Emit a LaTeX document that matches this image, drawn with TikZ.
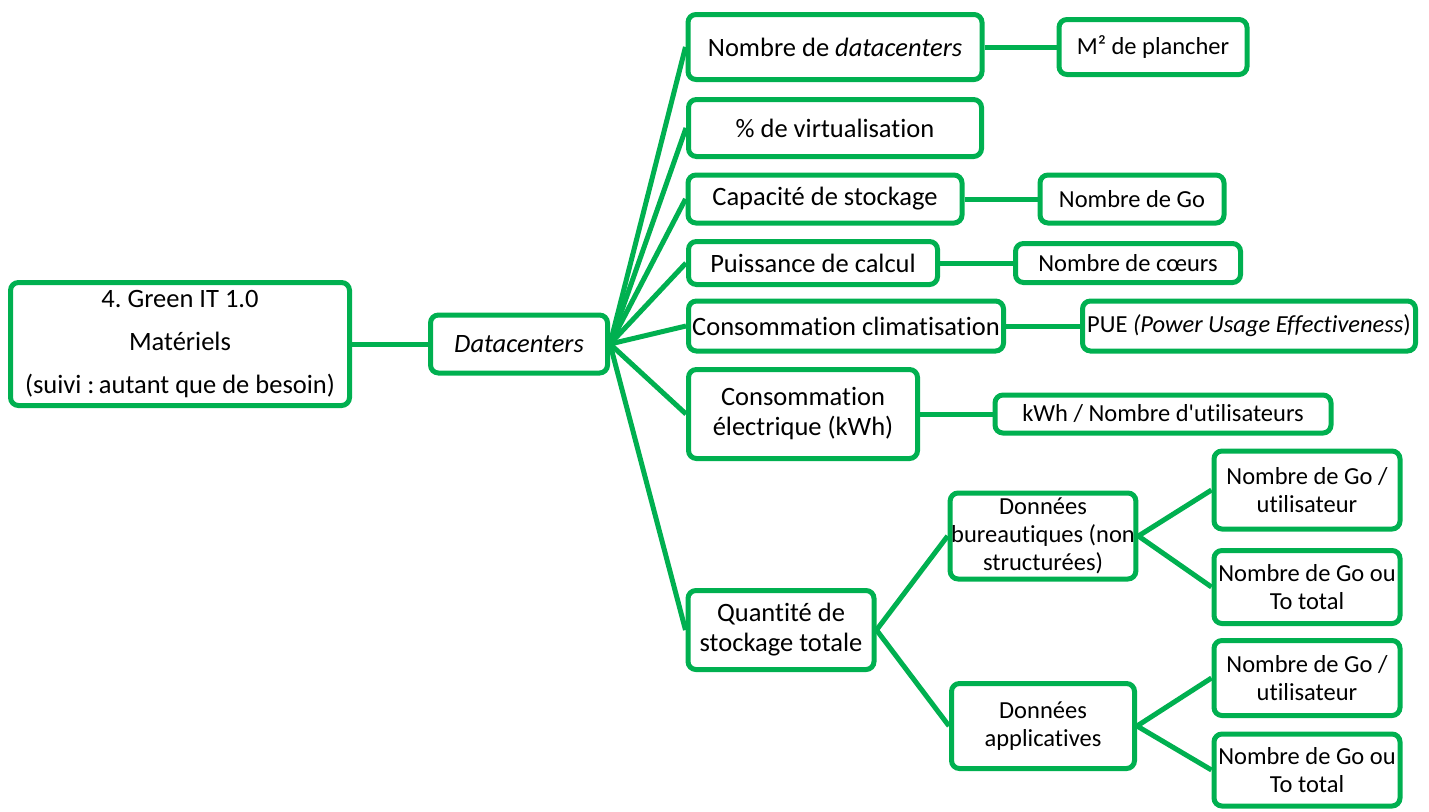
\documentclass[tikz,border=0pt]{standalone}
\usepackage{fontspec}
\setmainfont{Carlito}[Ligatures=NoCommon]
\definecolor{itgreen}{RGB}{0,176,80}
\frenchspacing

\tikzset{
  box/.style={draw=itgreen, line width=5pt, rounded corners=8pt, fill=white,
    align=center, inner sep=1pt},
  big/.style={box, font=\fontsize{26.5}{30}\selectfont},
  small/.style={box, font=\fontsize{24.5}{28}\selectfont},
  link/.style={draw=itgreen, line width=5pt},
}

\begin{document}
\begin{tikzpicture}[x=1pt, y=-1pt]
    \useasboundingbox (0,0) rectangle (1429,811);

    % Root and hub
    \node[big, minimum width=339pt, minimum height=123pt] (root) at (180,344)
        {4. Green IT 1.0\\[13pt] Matériels\\[13pt] (suivi :\,autant que de besoin)};
    \node[big, minimum width=177pt, minimum height=58pt] (dc) at (519,344) {\textit{Datacenters}};

    % First level
    \node[big, minimum width=294pt, minimum height=65pt] (nbdc) at (835,47) {Nombre de \textit{datacenters}};
    \node[big, minimum width=293pt, minimum height=57pt] (virt) at (835,128) {\% de virtualisation};
    \node[big, minimum width=274pt, minimum height=48pt] (cap) at (825,199) {Capacité de stockage};
    \node[big, minimum width=249pt, minimum height=43pt] (calc) at (813,263) {Puissance de calcul};
    \node[big, minimum width=315pt, minimum height=50pt] (clim) at (846,326) {Consommation climatisation};
    \node[big, minimum width=229pt, minimum height=89pt] (elec) at (803,414) {Consommation\\ électrique (kWh)};
    \node[big, minimum width=186pt, minimum height=79pt] (qte) at (781,630) {Quantité de\\ stockage totale};

    % Second level
    \node[small, minimum width=188pt, minimum height=55pt] (plancher) at (1153,47) {M² de plancher};
    \node[small, minimum width=184pt, minimum height=48pt] (nbgo) at (1132,199) {Nombre de Go};
    \node[small, minimum width=225pt, minimum height=39pt] (coeurs) at (1128,263) {Nombre de cœurs};
    \node[small, minimum width=333pt, minimum height=50pt] (pue) at (1249,326) {PUE \textit{(Power Usage Effectiveness})};
    \node[small, minimum width=336pt, minimum height=38pt] (kwh) at (1163,414) {kWh / Nombre d\textquotesingle utilisateurs};
    \node[small, minimum width=183pt, minimum height=86pt] (bur) at (1043,536) {Données\\ bureautiques (non\\ structurées)};
    \node[small, minimum width=183pt, minimum height=85pt] (app) at (1043,726) {Données\\ applicatives};

    % Third level
    \node[small, minimum width=186pt, minimum height=78pt] (burusr) at (1307,490) {Nombre de Go /\\ utilisateur};
    \node[small, minimum width=186pt, minimum height=73pt] (burtot) at (1307,587) {Nombre de Go ou\\ To total};
    \node[small, minimum width=186pt, minimum height=75pt] (appusr) at (1307,678) {Nombre de Go /\\ utilisateur};
    \node[small, minimum width=186pt, minimum height=72pt] (apptot) at (1307,770) {Nombre de Go ou\\ To total};

    % Connectors
    \draw[link] (root.east) -- (dc.west);
    \foreach \n in {nbdc,virt,cap,calc,clim,elec,qte}
        \draw[link] (dc.east) -- (\n.west);
    \draw[link] (nbdc.east) -- (plancher.west);
    \draw[link] (cap.east) -- (nbgo.west);
    \draw[link] (calc.east) -- (coeurs.west);
    \draw[link] (clim.east) -- (pue.west);
    \draw[link] (elec.east) -- (kwh.west);
    \draw[link] (qte.east) -- (bur.west);
    \draw[link] (qte.east) -- (app.west);
    \draw[link] (bur.east) -- (burusr.west);
    \draw[link] (bur.east) -- (burtot.west);
    \draw[link] (app.east) -- (appusr.west);
    \draw[link] (app.east) -- (apptot.west);

\end{tikzpicture}
\end{document}
